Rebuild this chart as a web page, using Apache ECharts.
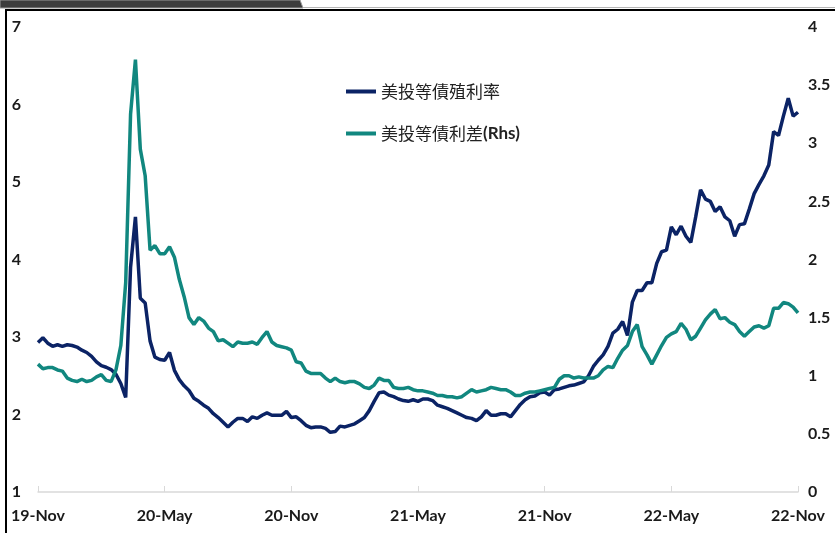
<!DOCTYPE html>
<html>
<head>
<meta charset="utf-8">
<script src="https://cdn.jsdelivr.net/npm/echarts@6/dist/echarts.min.js"></script>
<style>
  html, body { margin: 0; padding: 0; background: #ffffff; }
  #chart { width: 835px; height: 533px; }
</style>
</head>
<body>
<div id="chart"></div>
<script>
// Weekly observations, starting 1 Nov 2019
const startDate = '2019-11-01';
const tickLabels = ['19-Nov', '20-May', '20-Nov', '21-May', '21-Nov', '22-May', '22-Nov'];
const weeksPerTick = 26;

// US investment-grade corporate bond yield (%), left axis
const igYield = [
  2.93, 2.99, 2.92, 2.88, 2.90, 2.88, 2.90, 2.89, 2.87, 2.83,
  2.80, 2.75, 2.68, 2.63, 2.61, 2.58, 2.52, 2.40, 2.22, 3.90,
  4.55, 3.50, 3.44, 2.95, 2.74, 2.71, 2.70, 2.80, 2.57, 2.45,
  2.37, 2.31, 2.21, 2.17, 2.12, 2.08, 2.01, 1.96, 1.90, 1.84,
  1.90, 1.95, 1.95, 1.91, 1.97, 1.95, 1.99, 2.02, 1.99, 1.99,
  1.99, 2.04, 1.96, 1.97, 1.92, 1.86, 1.83, 1.84, 1.84, 1.82,
  1.77, 1.78, 1.85, 1.84, 1.86, 1.88, 1.92, 1.96, 2.05, 2.17,
  2.28, 2.29, 2.25, 2.23, 2.20, 2.18, 2.17, 2.19, 2.17, 2.20,
  2.20, 2.18, 2.12, 2.10, 2.08, 2.05, 2.02, 1.99, 1.96, 1.95,
  1.92, 1.97, 2.05, 1.99, 1.99, 2.01, 2.01, 1.97, 2.05, 2.13,
  2.19, 2.23, 2.24, 2.28, 2.29, 2.25, 2.32, 2.33, 2.35, 2.37,
  2.38, 2.40, 2.42, 2.50, 2.62, 2.70, 2.77, 2.88, 3.05, 3.10,
  3.20, 3.02, 3.45, 3.60, 3.60, 3.70, 3.70, 3.95, 4.10, 4.12,
  4.42, 4.32, 4.43, 4.30, 4.22, 4.55, 4.90, 4.78, 4.75, 4.62,
  4.68, 4.55, 4.50, 4.30, 4.45, 4.46, 4.65, 4.85, 4.97, 5.08,
  5.22, 5.65, 5.60, 5.85, 6.08, 5.85, 5.90
];

// US investment-grade credit spread (%), right axis
const igSpread = [
  1.10, 1.06, 1.07, 1.07, 1.05, 1.04, 0.98, 0.96, 0.95, 0.97,
  0.95, 0.96, 0.99, 1.01, 0.96, 0.95, 1.05, 1.26, 1.80, 3.25,
  3.72, 2.95, 2.72, 2.08, 2.12, 2.05, 2.05, 2.11, 2.02, 1.83,
  1.68, 1.50, 1.44, 1.50, 1.47, 1.41, 1.38, 1.30, 1.31, 1.28,
  1.25, 1.29, 1.28, 1.28, 1.29, 1.27, 1.33, 1.38, 1.29, 1.26,
  1.25, 1.24, 1.22, 1.12, 1.11, 1.04, 1.02, 1.02, 1.02, 0.98,
  0.95, 0.98, 0.95, 0.94, 0.95, 0.95, 0.93, 0.90, 0.89, 0.92,
  0.98, 0.96, 0.96, 0.90, 0.89, 0.89, 0.90, 0.88, 0.87, 0.87,
  0.86, 0.85, 0.83, 0.83, 0.82, 0.82, 0.81, 0.82, 0.85, 0.88,
  0.86, 0.87, 0.88, 0.90, 0.89, 0.88, 0.88, 0.86, 0.83, 0.83,
  0.85, 0.86, 0.86, 0.87, 0.88, 0.89, 0.90, 0.97, 1.00, 1.00,
  0.98, 0.99, 0.98, 0.98, 0.98, 1.00, 1.05, 1.08, 1.07, 1.15,
  1.22, 1.26, 1.38, 1.44, 1.25, 1.18, 1.10, 1.18, 1.26, 1.33,
  1.36, 1.38, 1.45, 1.40, 1.31, 1.34, 1.41, 1.48, 1.53, 1.57,
  1.49, 1.50, 1.46, 1.44, 1.38, 1.34, 1.38, 1.42, 1.43, 1.41,
  1.43, 1.58, 1.58, 1.63, 1.62, 1.59, 1.54
];

const seriesNames = ['美投等債殖利率', '美投等債利差(Rhs)'];

// Weekly date categories
const categories = [];
{
  const d0 = new Date(startDate + 'T00:00:00Z');
  for (let i = 0; i < igYield.length; i++) {
    const d = new Date(d0.getTime() + i * 7 * 86400000);
    categories.push(d.toISOString().slice(0, 10));
  }
}

const FONT = "Lato, 'Open Sans', sans-serif";
const NAVY = '#0b2365';
const TEAL = '#11877f';

const chart = echarts.init(document.getElementById('chart'), null, { renderer: 'canvas' });

const isTick = (idx) => idx % weeksPerTick === 0;

chart.setOption({
  animation: false,
  backgroundColor: '#ffffff',
  grid: { left: 38, right: 37, top: 27, bottom: 41, containLabel: false },
  legend: {
    orient: 'vertical',
    left: 341,
    top: 77,
    itemWidth: 30,
    itemHeight: 4,
    itemGap: 23,
    icon: 'rect',
    data: seriesNames,
    textStyle: {
      fontFamily: "'Noto Sans CJK TC', 'Noto Sans CJK SC', sans-serif",
      fontSize: 17,
      color: '#222222',
      lineHeight: 19,
      rich: {
        b: { fontFamily: FONT, fontWeight: 'bold', fontSize: 17, color: '#222222' }
      }
    },
    formatter: (name) => name.replace('(Rhs)', '{b|(Rhs)}')
  },
  xAxis: {
    type: 'category',
    data: categories,
    boundaryGap: false,
    axisLine: { lineStyle: { color: '#d9d9d9', width: 1.5 } },
    axisTick: {
      show: true, inside: true, length: 6,
      interval: (idx) => isTick(idx),
      lineStyle: { color: '#d9d9d9', width: 1 }
    },
    axisLabel: {
      interval: (idx) => isTick(idx),
      formatter: (v, idx) => tickLabels[idx / weeksPerTick],
      margin: 16,
      fontFamily: FONT, fontWeight: 'bold', fontSize: 16, color: '#1a1a1a'
    },
    splitLine: { show: false }
  },
  yAxis: [
    {
      type: 'value', min: 1, max: 7, interval: 1,
      axisLine: { show: false }, axisTick: { show: false },
      splitLine: { show: false },
      axisLabel: {
        margin: 17, align: 'right',
        fontFamily: FONT, fontWeight: 'bold', fontSize: 16, color: '#1a1a1a'
      }
    },
    {
      type: 'value', min: 0, max: 4, interval: 0.5,
      axisLine: { show: false }, axisTick: { show: false },
      splitLine: { show: false },
      axisLabel: {
        margin: 10, align: 'left',
        fontFamily: FONT, fontWeight: 'bold', fontSize: 16, color: '#1a1a1a'
      }
    }
  ],
  series: [
    {
      name: seriesNames[0], type: 'line', yAxisIndex: 0,
      data: igYield, showSymbol: false, symbol: 'none',
      lineStyle: { color: NAVY, width: 3.5 },
      itemStyle: { color: NAVY }
    },
    {
      name: seriesNames[1], type: 'line', yAxisIndex: 1,
      data: igSpread, showSymbol: false, symbol: 'none',
      lineStyle: { color: TEAL, width: 3.5 },
      itemStyle: { color: TEAL }
    }
  ],
  graphic: [
    // header tab and frame
    {
      type: 'polygon', silent: true,
      shape: { points: [[0, 0], [300, 0], [303, 8], [0, 8]] },
      style: { fill: '#3d3d3d', stroke: '#9a9a9a', lineWidth: 1 }
    },
    {
      type: 'line', silent: true,
      shape: { x1: 303, y1: 7.5, x2: 835, y2: 7.5 },
      style: { stroke: '#b5b5b5', lineWidth: 1 }
    },
    {
      type: 'polyline', silent: true,
      shape: { points: [[6, 533], [6, 10], [835, 10]] },
      style: { stroke: '#000000', lineWidth: 2, fill: null }
    }
  ]
});
</script>
</body>
</html>
